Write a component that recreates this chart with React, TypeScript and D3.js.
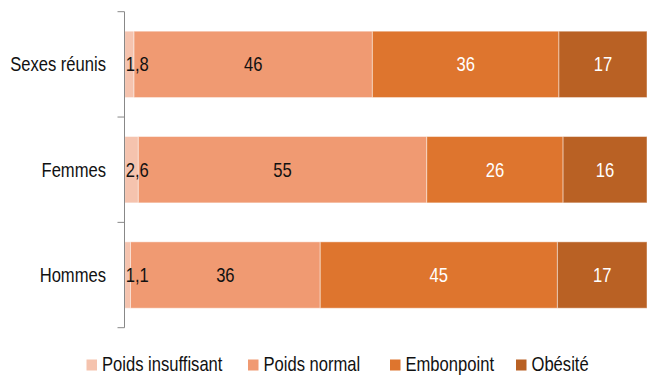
import React from "react";
import * as d3 from "d3";

const categories = ["Sexes réunis", "Femmes", "Hommes"];
const seriesNames = ["Poids insuffisant", "Poids normal", "Embonpoint", "Obésité"];
const insuffisant = [1.8, 2.6, 1.1];
const normal = [46, 55, 36];
const embonpoint = [36, 26, 45];
const obesite = [17, 16, 17];
const valueLabels = [
  ["1,8", "46", "36", "17"],
  ["2,6", "55", "26", "16"],
  ["1,1", "36", "45", "17"],
];

const colors = ["#f5c3ae", "#f09a72", "#de752e", "#b96124"];
const labelColors = ["#111", "#111", "#fff", "#fff"];

const W = 647;
const H = 375;
const FONT = "'Liberation Sans', Arial, sans-serif";
const FS = 20;
const SX = 0.83;

function T({ x, y, anchor = "start", fill = "#111", children }: any) {
  return (
    <text
      transform={`translate(${x},${y}) scale(${SX},1)`}
      textAnchor={anchor}
      fill={fill}
      fontSize={FS}
      fontFamily={FONT}
    >
      {children}
    </text>
  );
}

export default function App() {
  // each bar is shown as shares of its own total
  const x = d3.scaleLinear().domain([0, 1]).range([124.7, 647]);
  const y = d3
    .scaleBand<string>()
    .domain(categories)
    .range([11.7, 327.7])
    .paddingInner(0.37)
    .paddingOuter(0.185);

  const rows = categories.map((c, i) => ({
    cat: c,
    values: [insuffisant[i], normal[i], embonpoint[i], obesite[i]],
  }));
  const stack = d3
    .stack<any>()
    .keys([0, 1, 2, 3] as any)
    .value((d: any, k: any) => d.values[k])
    .offset(d3.stackOffsetExpand);
  const layers = stack(rows as any);

  const [r0, r1] = y.range();
  const tickYs = d3.range(categories.length + 1).map((i) => r0 + i * ((r1 - r0) / categories.length));

  const legendX = [86.5, 248, 390, 516];
  const bh = y.bandwidth();

  return (
    <svg
      width={W}
      height={H}
      style={{ position: "absolute", left: 0, top: 0, background: "#fff" }}
    >
      {layers.map((layer, k) =>
        layer.map((seg, i) => (
          <rect
            key={`r${k}-${i}`}
            x={x(seg[0])}
            y={y(categories[i])!}
            width={x(seg[1]) - x(seg[0])}
            height={bh}
            fill={colors[k]}
            stroke="rgba(255,255,255,0.45)"
            strokeWidth={1}
          />
        ))
      )}
      {layers.map((layer, k) =>
        layer.map((seg, i) => {
          const x0 = x(seg[0]);
          const x1 = x(seg[1]);
          const cx = k === 0 ? x0 + 1 : (x0 + x1) / 2;
          return (
            <T
              key={`t${k}-${i}`}
              x={cx}
              y={y(categories[i])! + bh / 2 + 7}
              anchor={k === 0 ? "start" : "middle"}
              fill={labelColors[k]}
            >
              {valueLabels[i][k]}
            </T>
          );
        })
      )}
      {/* category axis */}
      <line x1={124.5} x2={124.5} y1={r0} y2={r1} stroke="#888" strokeWidth={1} />
      {tickYs.map((ty, i) => (
        <line key={i} x1={117.5} x2={124.5} y1={ty} y2={ty} stroke="#888" strokeWidth={1} />
      ))}
      {categories.map((c) => (
        <T key={c} x={106} y={y(c)! + bh / 2 + 7} anchor="end" fill="#111">
          {c}
        </T>
      ))}
      {/* legend */}
      {seriesNames.map((s, k) => (
        <g key={s}>
          <rect x={legendX[k]} y={359.5} width={10.5} height={11} fill={colors[k]} />
          <T x={legendX[k] + 15.5} y={371} fill="#111">
            {s}
          </T>
        </g>
      ))}
    </svg>
  );
}
